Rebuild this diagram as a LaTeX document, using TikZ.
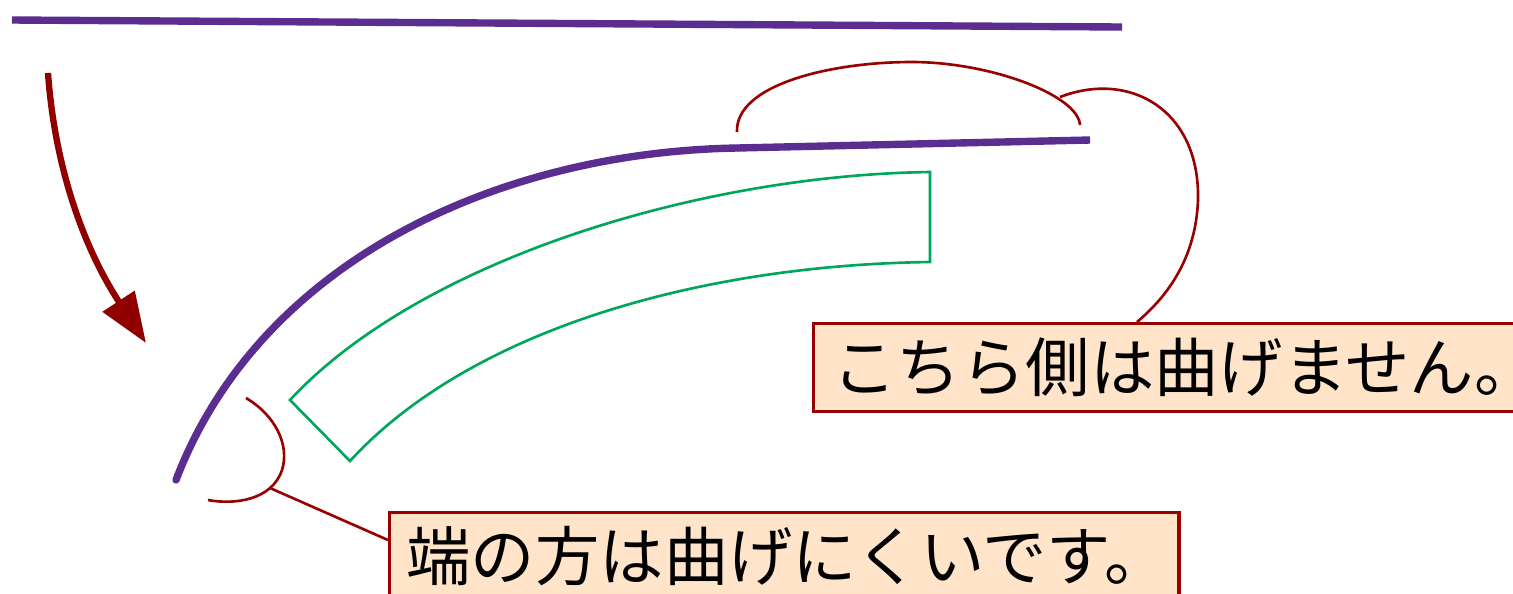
\documentclass[tikz,border=0pt]{standalone}
\usepackage{fontspec}
\newfontfamily\jpfont{Noto Sans CJK JP}
\usetikzlibrary{arrows.meta,calc}
\definecolor{rodpurple}{HTML}{5B2D90}
\definecolor{bendgreen}{HTML}{00A65A}
\definecolor{markred}{HTML}{990000}
\definecolor{notefill}{HTML}{FFE4C9}
\tikzset{%
	rod/.style={rodpurple,line width=2.1pt},
	outline/.style={bendgreen,line width=0.75pt},
	brace/.style={markred,line width=0.75pt},
	note/.style={draw=markred,fill=notefill,line width=0.9pt,anchor=north west,align=left,inner ysep=0pt,font=\jpfont\fontsize{18.3pt}{22pt}\selectfont},
	bendarrow/.style={-{Triangle[length=0.5cm,width=0.37cm]},draw=markred!95!black,line width=1.8pt},
}

\begin{document}
\begin{tikzpicture}[x=0.01cm,y=-0.01cm]
	\useasboundingbox (0,0) rectangle (1513,593);
	
	%rod
	\draw[rod] (12,20) -- (1122,27);
	\draw[rod,line cap=round] (176,480) .. controls (260,260) and (500,152) .. (737,148);
	\draw[rod] (737,148) -- (1090,140);
	
	%arrow
	\draw[bendarrow] (48,73) .. controls (55,170) and (85,250) .. (146,343);
	
	%outline
	\draw[outline] (290,400) .. controls (420,260) and (700,175) .. (930,172) -- (930,262)
		.. controls (700,265) and (470,330) .. (350,461) -- cycle;
	
	%braces
	\draw[brace] (737,132) .. controls (735,85) and (830,62) .. (912,62) .. controls (990,62) and (1078,95) .. (1080,125);
	\draw[brace] (246,398) .. controls (275,415) and (290,445) .. (282,470) .. controls (272,500) and (235,505) .. (208,500);
	\coordinate (flatjoin) at (1060,97);
	\coordinate (endjoin) at (270,488);
	
	%notes
	\node[note,text width=7.2cm,inner xsep=0.19cm,minimum height=0.88cm] (flatnote) at (812,322) {こちら側は曲げません。};
	\node[note,text width=7.55cm,inner xsep=0.17cm,minimum height=0.86cm] (endnote) at (388,511) {端の方は曲げにくいです。};
	\draw[brace] (flatjoin) .. controls (1130,70) and (1200,110) .. (1198,200)
		.. controls (1196,250) and (1175,290) .. ($(flatnote.north west)+(325,0)$);
	\draw[brace] (endjoin) -- ($(endnote.north west)+(0,29)$);
\end{tikzpicture}
\end{document}
